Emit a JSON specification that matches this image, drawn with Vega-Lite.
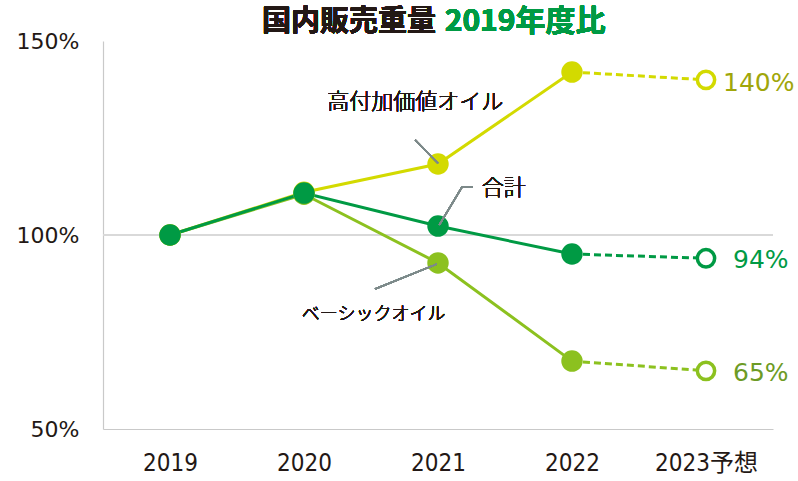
{
  "$schema": "https://vega.github.io/schema/vega-lite/v6.json",
  "width": 670,
  "height": 388,
  "autosize": {"type": "none"},
  "padding": {"left": 103, "top": 41, "right": 25, "bottom": 52},
  "background": "white",
  "config": {"view": {"stroke": null}, "font": "Noto Sans CJK JP"},
  "data": {
    "values": [
      {"series": "高付加価値オイル", "year": 2019, "value": 100},
      {"series": "高付加価値オイル", "year": 2020, "value": 111},
      {"series": "高付加価値オイル", "year": 2021, "value": 118.3},
      {"series": "高付加価値オイル", "year": 2022, "value": 142},
      {"series": "高付加価値オイル", "year": 2023, "value": 140},
      {"series": "ベーシックオイル", "year": 2019, "value": 100},
      {"series": "ベーシックオイル", "year": 2020, "value": 110.5},
      {"series": "ベーシックオイル", "year": 2021, "value": 92.8},
      {"series": "ベーシックオイル", "year": 2022, "value": 67.5},
      {"series": "ベーシックオイル", "year": 2023, "value": 65},
      {"series": "合計", "year": 2019, "value": 100},
      {"series": "合計", "year": 2020, "value": 110.8},
      {"series": "合計", "year": 2021, "value": 102.3},
      {"series": "合計", "year": 2022, "value": 95.1},
      {"series": "合計", "year": 2023, "value": 94}
    ]
  },
  "encoding": {
    "x": {
      "field": "year",
      "type": "quantitative",
      "scale": {"domain": [2018.5, 2023.5], "nice": false, "zero": false},
      "axis": {
        "values": [2019, 2020, 2021, 2022, 2023],
        "format": "d",
        "labelExpr": "datum.value == 2023 ? '2023予想' : datum.label",
        "grid": false,
        "ticks": false,
        "domainColor": "#c9c9c9",
        "domainWidth": 1.2,
        "labelFont": "DejaVu Sans Condensed, Noto Sans CJK JP",
        "labelFontSize": 24,
        "labelColor": "#231815",
        "labelPadding": 22,
        "labelFlush": false,
        "labelOverlap": false,
        "title": null
      }
    },
    "y": {
      "field": "value",
      "type": "quantitative",
      "scale": {"domain": [50, 150], "nice": false, "zero": false},
      "axis": {
        "values": [50, 100, 150],
        "labelExpr": "datum.value + '%'",
        "grid": false,
        "ticks": false,
        "domainColor": "#c9c9c9",
        "domainWidth": 1.2,
        "labelFont": "DejaVu Sans",
        "labelFontSize": 22,
        "labelColor": "#231815",
        "labelPadding": 24,
        "labelFlush": false,
        "title": null
      }
    }
  },
  "layer": [
    {
      "mark": {"type": "rule", "color": "#d9d9d9", "strokeWidth": 1.5},
      "encoding": {"x": {"datum": 2018.5}, "x2": {"datum": 2023.5}, "y": {"datum": 100}}
    },
    {
      "transform": [{"filter": "datum.year <= 2022"}],
      "mark": {"type": "line", "strokeWidth": 3},
      "encoding": {
        "color": {
          "field": "series",
          "type": "nominal",
          "scale": {"domain": ["高付加価値オイル", "ベーシックオイル", "合計"], "range": ["#d3da00", "#8cc11f", "#009a44"]},
          "legend": null
        }
      }
    },
    {
      "transform": [{"filter": "datum.year >= 2022"}],
      "mark": {"type": "line", "strokeWidth": 3, "strokeDash": [7, 4]},
      "encoding": {
        "color": {"field": "series", "type": "nominal", "legend": null}
      }
    },
    {
      "transform": [{"filter": "datum.year <= 2022"}],
      "mark": {"type": "point", "filled": true, "size": 460, "opacity": 1},
      "encoding": {
        "color": {"field": "series", "type": "nominal", "legend": null}
      }
    },
    {
      "transform": [{"filter": "datum.year == 2023"}],
      "mark": {"type": "point", "filled": true, "fill": "white", "strokeWidth": 3.5, "size": 300, "opacity": 1},
      "encoding": {
        "stroke": {
          "field": "series",
          "type": "nominal",
          "scale": {"domain": ["高付加価値オイル", "ベーシックオイル", "合計"], "range": ["#d3da00", "#8cc11f", "#009a44"]},
          "legend": null
        }
      }
    },
    {
      "transform": [{"filter": "datum.year == 2023"}, {"calculate": "format(datum.value, '.0f') + '%'", "as": "lbl"}],
      "mark": {"type": "text", "align": "left", "baseline": "middle", "dx": 17, "dy": 3, "font": "DejaVu Sans", "fontSize": 25},
      "encoding": {
        "text": {"condition": {"test": "datum.series != '高付加価値オイル'", "value": ""}, "field": "lbl", "type": "nominal"},
        "fill": {
          "field": "series",
          "type": "nominal",
          "scale": {"domain": ["高付加価値オイル", "ベーシックオイル", "合計"], "range": ["#a0a60a", "#6d9b25", "#009a44"]},
          "legend": null
        }
      }
    },
    {
      "transform": [{"filter": "datum.year == 2023"}, {"calculate": "format(datum.value, '.0f') + '%'", "as": "lbl"}],
      "mark": {"type": "text", "align": "left", "baseline": "middle", "dx": 27, "dy": 2, "font": "DejaVu Sans", "fontSize": 25},
      "encoding": {
        "text": {"condition": {"test": "datum.series == '高付加価値オイル'", "value": ""}, "field": "lbl", "type": "nominal"},
        "fill": {"field": "series", "type": "nominal", "legend": null}
      }
    },
    {
      "mark": {"type": "rule", "color": "#7d8a8a", "strokeWidth": 1.5},
      "encoding": {"x": {"datum": 2020.83}, "y": {"datum": 124.5}, "x2": {"datum": 2021.0}, "y2": {"datum": 118.5}}
    },
    {
      "mark": {"type": "rule", "color": "#7d8a8a", "strokeWidth": 1.5},
      "encoding": {"x": {"datum": 2021.26}, "y": {"datum": 112.4}, "x2": {"datum": 2021.18}, "y2": {"datum": 112.4}}
    },
    {
      "mark": {"type": "rule", "color": "#7d8a8a", "strokeWidth": 1.5},
      "encoding": {"x": {"datum": 2021.18}, "y": {"datum": 112.4}, "x2": {"datum": 2021.01}, "y2": {"datum": 102.6}}
    },
    {
      "mark": {"type": "rule", "color": "#7d8a8a", "strokeWidth": 1.5},
      "encoding": {"x": {"datum": 2020.53}, "y": {"datum": 86.1}, "x2": {"datum": 2020.99}, "y2": {"datum": 92.5}}
    },
    {
      "mark": {"type": "text", "text": "高付加価値オイル", "align": "center", "baseline": "middle", "fontSize": 22, "fontWeight": 300, "fill": "#231815"},
      "encoding": {"x": {"datum": 2020.83}, "y": {"datum": 134.3}}
    },
    {
      "mark": {"type": "text", "text": "合計", "align": "center", "baseline": "middle", "fontSize": 22, "fontWeight": 300, "fill": "#231815"},
      "encoding": {"x": {"datum": 2021.49}, "y": {"datum": 112.1}}
    },
    {
      "mark": {"type": "text", "text": "ベーシックオイル", "align": "center", "baseline": "middle", "fontSize": 18, "fontWeight": 300, "fill": "#231815"},
      "encoding": {"x": {"datum": 2020.52}, "y": {"datum": 79.4}}
    },
    {
      "mark": {"type": "text", "text": "国内販売重量", "align": "right", "baseline": "middle", "fontSize": 29, "fontWeight": "bold", "fill": "#231815"},
      "encoding": {"x": {"datum": 2020.985}, "y": {"datum": 154.9}}
    },
    {
      "mark": {"type": "text", "text": "2019年度比", "align": "left", "baseline": "middle", "fontSize": 30, "fontWeight": "bold", "fill": "#009a44"},
      "encoding": {"x": {"datum": 2021.05}, "y": {"datum": 154.9}}
    }
  ]
}
